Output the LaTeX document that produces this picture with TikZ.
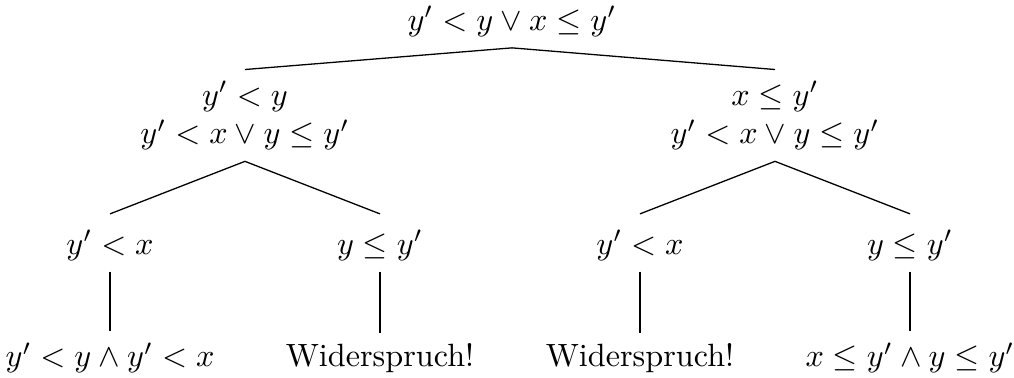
\documentclass[tikz,border=0pt]{standalone}
\usepackage{tikz}
\usetikzlibrary{positioning}

\begin{document}
\begin{tikzpicture}[
  formula/.style={inner sep=3.33pt,align=center},
  branch/.style={draw=black,line width=0.4pt}
]
\useasboundingbox (0,0) rectangle (11.069,-4.126);
\node[formula,anchor=base] (root) at (5.589,-0.33) {$y' < y \vee x \leq y'$};
\node[formula] (lft) at (2.674,-1.26) {$y' < y$\\$y' < x \vee y \leq y'$};
\node[formula] (rgt) at (8.460,-1.26) {$x \leq y'$\\$y' < x \vee y \leq y'$};
\node[formula,anchor=base] (ll) at (1.201,-2.773) {$y' < x$};
\node[formula,anchor=base] (lr) at (4.148,-2.773) {$y \leq y'$};
\node[formula,anchor=base] (rl) at (6.986,-2.773) {$y' < x$};
\node[formula,anchor=base] (rr) at (9.934,-2.773) {$y \leq y'$};
\node[formula,anchor=base] (lll) at (1.201,-4.006) {$y' < y \wedge y' < x$};
\node[formula,anchor=base] (lrr) at (4.148,-4.006) {Widerspruch!};
\node[formula,anchor=base] (rll) at (6.986,-4.006) {Widerspruch!};
\node[formula,anchor=base] (rrr) at (9.934,-4.006) {$x \leq y' \wedge y \leq y'$};
\draw[branch] (root.south) -- (lft.north);
\draw[branch] (root.south) -- (rgt.north);
\draw[branch] (lft.south) -- ([yshift=0.05cm]ll.north);
\draw[branch] (lft.south) -- ([yshift=0.05cm]lr.north);
\draw[branch] (rgt.south) -- ([yshift=0.05cm]rl.north);
\draw[branch] (rgt.south) -- ([yshift=0.05cm]rr.north);
\draw[branch] (ll.south) -- (lll.north);
\draw[branch] (lr.south) -- (lrr.north);
\draw[branch] (rl.south) -- (rll.north);
\draw[branch] (rr.south) -- (rrr.north);
\end{tikzpicture}
\end{document}
